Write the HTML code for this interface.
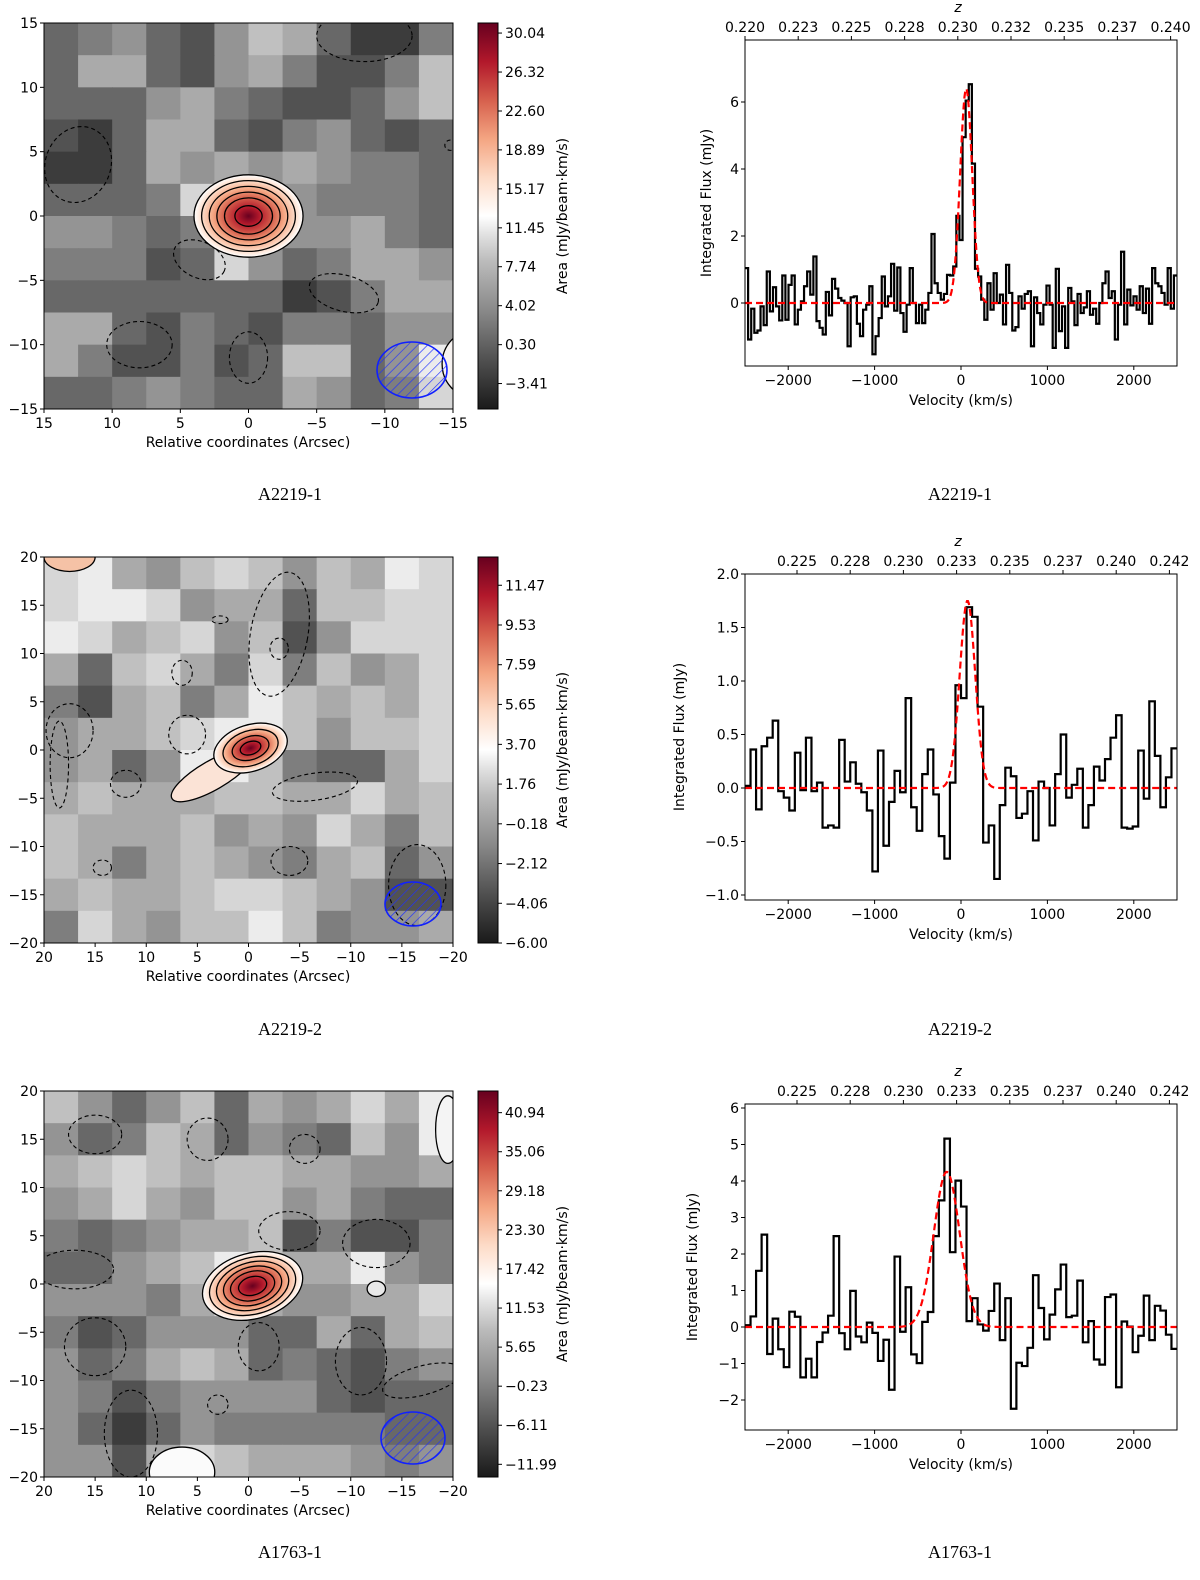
<!DOCTYPE html>
<html><head><meta charset="utf-8"><style>
html,body{margin:0;padding:0;background:#fff;}
svg{display:block;font-family:"DejaVu Sans","Liberation Sans",sans-serif;}
.cap{font-family:"Liberation Serif",serif;font-size:18px;}
</style></head><body>
<svg id="fig" width="1200" height="1580" viewBox="0 0 1200 1580" xmlns="http://www.w3.org/2000/svg">
<defs>
<linearGradient id="cmap" x1="0" y1="1" x2="0" y2="0">
<stop offset="0" stop-color="#1a1a1a"/><stop offset="0.12" stop-color="#4d4d4d"/><stop offset="0.25" stop-color="#878787"/><stop offset="0.38" stop-color="#bababa"/><stop offset="0.45" stop-color="#e0e0e0"/><stop offset="0.5" stop-color="#ffffff"/><stop offset="0.6" stop-color="#fddbc7"/><stop offset="0.7" stop-color="#f4a582"/><stop offset="0.8" stop-color="#d6604d"/><stop offset="0.9" stop-color="#b2182b"/><stop offset="1" stop-color="#67001f"/>
</linearGradient>
<radialGradient id="src">
<stop offset="0" stop-color="#67001f"/><stop offset="0.2" stop-color="#b2182b"/><stop offset="0.45" stop-color="#d6604d"/><stop offset="0.65" stop-color="#f4a582"/><stop offset="0.85" stop-color="#fddbc7"/><stop offset="1" stop-color="#ffffff"/>
</radialGradient>
<pattern id="hatch" width="7" height="7" patternUnits="userSpaceOnUse" patternTransform="rotate(45)"><line x1="0" y1="0" x2="0" y2="7" stroke="#2030ff" stroke-width="1.3"/></pattern>
</defs>
</svg>
<script>
// ---------- DATA ----------
const map1Grid = [
[3,4,5,3,2,5,7,6,3,1,1,4],[3,6,6,3,2,5,6,4,2,2,4,7],[3,3,3,5,6,4,3,2,2,3,5,7],[2,1,3,6,6,3,2,4,5,3,2,3],
[1,1,3,6,5,6,5,6,5,4,4,3],[3,3,3,4,8,9,9,5,4,4,4,3],[5,5,4,3,4,9,9,5,5,6,4,3],[4,4,4,2,3,8,5,3,4,6,6,5],
[3,3,3,3,3,3,3,1,2,4,6,6],[6,6,3,2,4,3,2,4,4,3,5,5],[6,4,2,2,4,2,3,7,7,3,5,9],[3,3,4,5,4,3,3,6,5,3,4,8]];
const map2Grid = [
[8,9,6,5,7,8,7,5,7,6,9,8],[8,9,9,8,5,6,6,3,7,7,8,8],[9,8,6,7,8,5,7,2,5,8,8,8],[6,3,7,8,6,4,8,4,7,5,6,8],
[4,2,6,7,4,6,9,7,6,7,6,8],[5,6,6,7,8,9,9,7,5,7,7,8],[5,6,3,5,9,9,7,4,3,3,6,8],[6,7,6,6,6,7,7,6,6,8,6,7],
[7,6,6,6,7,5,6,5,8,6,4,7],[7,6,4,6,7,6,5,4,6,7,3,5],[6,7,6,6,7,8,8,7,6,5,2,2],[4,8,6,5,7,7,9,7,4,5,5,6]];
const map3Grid = [
[7,5,3,5,7,3,6,5,6,8,6,9],[5,3,4,7,6,3,5,4,3,7,5,9],[6,7,8,7,6,7,7,6,6,5,5,6],[5,6,8,6,5,7,7,5,6,4,3,3],
[4,3,4,5,6,6,7,2,4,2,2,4],[3,3,5,6,7,9,7,6,6,9,5,4],[5,5,5,4,6,8,6,5,5,6,6,8],[4,2,3,5,5,5,3,3,6,3,6,7],
[5,3,4,6,7,6,3,4,3,2,4,5],[5,4,2,4,5,5,5,5,3,2,3,3],[5,3,1,3,5,4,4,4,4,4,3,3],[5,5,2,6,8,7,6,6,6,5,4,5]];
const cbar1Ticks = ["30.04","26.32","22.60","18.89","15.17","11.45","7.74","4.02","0.30","\u22123.41"];
const cbar1Vals = [30.04,26.32,22.60,18.89,15.17,11.45,7.74,4.02,0.30,-3.41];
const cbar2Ticks = ["11.47","9.53","7.59","5.65","3.70","1.76","\u22120.18","\u22122.12","\u22124.06","\u22126.00"];
const cbar2Vals = [11.47,9.53,7.59,5.65,3.70,1.76,-0.18,-2.12,-4.06,-6.00];
const cbar3Ticks = ["40.94","35.06","29.18","23.30","17.42","11.53","5.65","\u22120.23","\u22126.11","\u221211.99"];
const cbar3Vals = [40.94,35.06,29.18,23.30,17.42,11.53,5.65,-0.23,-6.11,-11.99];
const spec1 = [1.04,-1.09,-0.17,-0.89,-0.82,-0.1,-0.66,0.94,-0.25,0.47,-0.1,-0.52,0.82,-0.5,0.54,0.82,-0.64,-0.2,0.05,0.5,0.94,0.25,1.39,-0.54,-0.74,-0.94,0.33,-0.37,0.72,0.43,0.15,0.07,0,-1.29,0.17,0.2,-0.62,-0.99,-0.2,-0.05,0.5,-1.53,-0.99,-0.45,0.79,-0.1,0.2,1.17,-0.23,1.06,-0.3,-0.86,-0.05,1.04,0,-0.6,-0.05,-0.6,-0.2,0.3,2.06,0.59,0.3,0.1,0.27,0.84,0.82,1.09,2.6,1.88,4.95,6.04,6.53,4.16,1.02,0.79,0.1,-0.5,0.59,-0.2,0.89,0,0.25,-0.64,1.14,0.3,-0.82,-0.72,0.2,-0.17,0.27,0.35,-1.29,0.17,-0.3,-0.64,-0.05,0.52,-0.05,-1.34,1.02,-0.84,-0.1,-1.34,0.45,0.05,-0.66,0.27,-0.3,-0.13,0.35,-0.35,-0.17,-0.62,0,0.59,0.94,0.15,0.35,-1.09,-0.05,1.53,-0.64,0.4,-0.07,0.2,-0.2,0.5,-0.3,0.43,-0.62,1.04,0.59,0.5,0.3,-0.05,1.04,-0.17,0.82];
const spec2 = [0.02,0.36,-0.2,0.39,0.47,0.63,-0.03,-0.09,-0.21,0.33,-0.02,0.47,-0.03,0.05,-0.37,-0.35,-0.37,0.45,0.06,0.24,0.04,-0.04,-0.21,-0.78,0.35,-0.54,-0.13,0.16,-0.04,0.84,-0.18,-0.4,0.13,0.36,-0.06,-0.45,-0.66,0.05,0.96,0.84,1.69,1.6,0.76,-0.51,-0.35,-0.85,-0.16,0.19,0.11,-0.28,-0.24,-0.03,-0.49,0.06,0,-0.35,0.13,0.5,-0.09,0.03,0.18,-0.37,-0.16,0.2,0.07,0.27,0.47,0.68,-0.37,-0.38,-0.36,0.35,-0.1,0.81,0.3,-0.18,0.1,0.37];
const spec3 = [0.05,0.29,1.54,2.53,-0.74,0.23,-0.61,-1.1,0.42,0.28,-1.38,-0.87,-1.38,-0.41,-0.15,0.31,2.49,-0.17,-0.61,0.99,-0.26,-0.42,0.12,-0.16,-0.93,-0.35,-1.72,1.93,-0.13,1.09,-0.75,-0.99,0.14,0.41,2.49,3.47,5.16,2.05,4.01,3.3,0.16,0.79,0.07,-0.1,0.44,1.19,-0.36,0.79,-2.24,-0.98,-1.07,-0.57,1.42,0.52,-0.34,0.34,1.03,1.71,0.27,0.31,1.27,-0.42,0.16,-0.89,-1.03,0.82,0.89,-1.65,0.15,0.01,-0.69,-0.24,0.86,-0.36,0.58,0.45,-0.21,-0.6];
const fit1 = [6.4, 60, 70];    // amp, center km/s, sigma
const fit2 = [1.75, 75, 90];
const fit3 = [4.25, -165, 150];
const velTicks = [-2000,-1000,0,1000,2000];
const spec1YTicks = [0,2,4,6];
const spec2YTicks = [-1.0,-0.5,0.0,0.5,1.0,1.5,2.0];
const spec3YTicks = [-2,-1,0,1,2,3,4,5,6];
const z1Ticks = ["0.220","0.223","0.225","0.228","0.230","0.232","0.235","0.237","0.240"];
const z2Ticks = ["0.225","0.228","0.230","0.233","0.235","0.237","0.240","0.242"];

// ---------- helpers ----------
const svg = document.getElementById('fig');
const NS = 'http://www.w3.org/2000/svg';
function mk(tag, attrs, parent){ const e=document.createElementNS(NS,tag); for(const k in attrs) e.setAttribute(k,attrs[k]); (parent||svg).appendChild(e); return e; }
function txt(x,y,s,anchor,size,parent){ const t=mk('text',{x:x,y:y,'text-anchor':anchor||'middle','font-size':size||14,fill:'#000'},parent); t.textContent=s; return t; }
const defs = svg.querySelector('defs');

// ---------- map panels ----------
function mapPanel(cfg){
  const g = mk('g',{});
  
  
  const L=44,R=453,T=cfg.top,B=cfg.top+386, W=R-L, H=B-T, ext=cfg.ext;
  const cp = mk('clipPath',{id:'clip-'+cfg.name},defs);
  mk('rect',{x:L,y:T,width:W,height:H},cp);
  const inner = mk('g',{'clip-path':`url(#clip-${cfg.name})`},g);
  
  
  const sx = a => L + (ext - a)/(2*ext)*W;
  const sy = a => T + (ext - a)/(2*ext)*H;
  const grid = cfg.grid, n=grid.length;
  for(let r=0;r<n;r++) for(let c=0;c<grid[r].length;c++){
    const v=38+grid[r][c]*22;
    const cell = mk('rect',{x:L+c*W/n, y:T+r*H/n, width:W/n+0.6, height:H/n+0.6, fill:`rgb(${v},${v},${v})`},inner);
    
    
  }
  (cfg.extra||[]).forEach(b=>{ const e=mk('ellipse',{cx:sx(b[0]),cy:sy(b[1]),rx:b[2]*W/(2*ext),ry:b[3]*H/(2*ext),fill:b[4],stroke:'#000','stroke-width':1.3},inner);
      });
  cfg.neg.forEach(d=>{ const e=mk('ellipse',{cx:sx(d[0]),cy:sy(d[1]),rx:d[2]*W/(2*ext),ry:d[3]*H/(2*ext),fill:'none',stroke:'#000','stroke-width':1.1,'stroke-dasharray':'4,3',transform:`rotate(${d[4]||0} ${sx(d[0])} ${sy(d[1])})`},inner);
      });
  const s=cfg.src, cx=sx(s[0]), cy=sy(s[1]), rx=s[2]*W/(2*ext), ry=s[3]*H/(2*ext);
  if(cfg.tail){ const t=cfg.tail; const te=mk('ellipse',{cx:sx(t[0]),cy:sy(t[1]),rx:t[2]*W/(2*ext),ry:t[3]*H/(2*ext),fill:'#fbe3d6',stroke:'#000','stroke-width':1.3,transform:`rotate(${t[4]} ${sx(t[0])} ${sy(t[1])})`},inner);
      }
  const sg = mk('g',{transform:`rotate(${s[4]} ${cx} ${cy})`},inner);
   
  mk('ellipse',{cx:cx,cy:cy,rx:rx,ry:ry,fill:'url(#src)'},sg);
  cfg.levels.forEach(f=>{ mk('ellipse',{cx:cx,cy:cy,rx:rx*f,ry:ry*f,fill:'none',stroke:'#000','stroke-width':1.3},sg); });
  const bm=cfg.beam;
  const beam=mk('ellipse',{cx:bm[0],cy:bm[1],rx:bm[2],ry:bm[3],fill:'url(#hatch)',stroke:'#1020ff','stroke-width':1.6},inner);
   
  mk('rect',{x:L,y:T,width:W,height:H,fill:'none',stroke:'#000','stroke-width':1},g);
  for(let a=-ext;a<=ext;a+=5){
    mk('line',{x1:sx(a),y1:B,x2:sx(a),y2:B+4,stroke:'#000'},g);
    mk('line',{x1:L-4,y1:sy(a),x2:L,y2:sy(a),stroke:'#000'},g);
    const lab=a<0?'\u2212'+(-a):''+a;
    const xl=txt(sx(a),B+19,lab,'middle',14,g);  
    const yl=txt(L-6,sy(a)+5,lab,'end',14,g);  
  }
  const xt=txt(248,B+38,'Relative coordinates (Arcsec)','middle',14,g);
   
  const cb=mk('rect',{x:478,y:T,width:20,height:H,fill:'url(#cmap)',stroke:'#000','stroke-width':1},g);
   
  const cy0 = v => B - (v - cfg.cmin)/(cfg.cmax-cfg.cmin)*H;
  cfg.cvals.forEach((v,i)=>{ mk('line',{x1:498,y1:cy0(v),x2:502,y2:cy0(v),stroke:'#000'},g);
    const tl=txt(505,cy0(v)+5,cfg.clabels[i],'start',14,g);   });
  const cl=txt(0,0,'Area (mJy/beam\u00b7km/s)','middle',14,g);
  cl.setAttribute('transform',`translate(567 ${(T+B)/2}) rotate(-90)`);
   
  const cap=txt(290,cfg.cap,cfg.title,'middle',18,g); cap.setAttribute('class','cap');
   
}

mapPanel({name:'map-a2219-1',top:23,ext:15,grid:map1Grid,src:[0,0,4,3.2,0],levels:[1,0.86,0.72,0.58,0.44,0.25],
  neg:[[12.5,4,2.4,3,20],[3.6,-3.4,2,1.4,25],[-7,-6,2.6,1.4,15],[8,-10,2.4,1.8,0],[0,-11,1.4,2,0],[-8.5,14,3.5,2,0],[-14.8,5.5,0.4,0.4,0]],
  extra:[[-16.5,-11.5,2.3,2.6,'#f6f2f0']],
  beam:[412,370,35,28],cmin:-5.84,cmax:31.0,cvals:cbar1Vals,clabels:cbar1Ticks,cap:500,title:'A2219-1'});
mapPanel({name:'map-a2219-2',top:557,ext:20,grid:map2Grid,src:[-0.2,0.2,3.7,2.4,-18],levels:[1,0.75,0.5,0.28],
  tail:[3.5,-2.6,4.6,1.5,-30],
  neg:[[-3,12,2.8,6.5,10],[-3,10.5,0.9,1.1,0],[6.5,8,1,1.3,0],[6,1.6,1.8,2,0],[17.5,2,2.3,2.8,0],[12,-3.5,1.5,1.4,0],[-6.5,-3.8,4.2,1.4,-8],[-4,-11.5,1.8,1.5,0],[14.3,-12.2,0.9,0.8,0],[-16.5,-14,2.8,4.2,0],[2.8,13.5,0.8,0.4,0],[18.5,-1.5,0.9,4.5,0]],
  extra:[[17.5,20,2.5,1.5,'#f5c2a6']],
  beam:[413,904,28,22],cmin:-6.0,cmax:12.85,cvals:cbar2Vals,clabels:cbar2Ticks,cap:1035,title:'A2219-2'});
mapPanel({name:'map-a1763-1',top:1091,ext:20,grid:map3Grid,src:[-0.4,-0.2,5,3.4,-15],levels:[1,0.86,0.72,0.58,0.44,0.28],
  neg:[[15,15.5,2.6,2,0],[4,15,2,2.2,0],[-5.5,14,1.5,1.5,0],[-4,5.5,3,2,0],[-12.5,4.2,3.3,2.5,0],[17,1.5,3.8,2,0],[15,-6.5,3,3,0],[-1,-6.5,2,2.5,0],[11.5,-15.5,2.6,4.5,0],[3,-12.5,1,1,0],[-11,-8,2.5,3.5,0],[-17,-10,4,1.5,-15]],
  extra:[[6.5,-19.5,3.2,2.6,'#fbfbfb'],[-12.5,-0.5,0.9,0.8,'#e8e8e8'],[-19.5,16,1.2,3.5,'#f4f4f4']],
  beam:[413,1438,32,26],cmin:-13.9,cmax:44.2,cvals:cbar3Vals,clabels:cbar3Ticks,cap:1558,title:'A1763-1'});

// ---------- spectra ----------
function specPanel(cfg){
  const g=mk('g',{});
  
  
  const L=745,R=1177,T=cfg.top,B=cfg.top+326;
  const xv = v => L + (v+2500)/5000*(R-L);
  const yv = f => cfg.y0 - f*cfg.ppu;
  const N=cfg.data.length, w=5000/N;
  let d='';
  cfg.data.forEach((f,i)=>{ const x0=xv(-2500+i*w), x1=xv(-2500+(i+1)*w), y=yv(f);
    d += (i===0?`M${x0},${y}`:`L${x0},${y}`) + `L${x1},${y}`; });
  const p=mk('path',{d:d,fill:'none',stroke:'#000','stroke-width':2.2,'stroke-linejoin':'miter'},g);
   
  let gd='';
  for(let v=-2500; v<=2500; v+=10){ const f=cfg.fit[0]*Math.exp(-0.5*Math.pow((v-cfg.fit[1])/cfg.fit[2],2)); gd+=(v===-2500?'M':'L')+xv(v)+','+yv(f); }
  const gp=mk('path',{d:gd,fill:'none',stroke:'#ff0000','stroke-width':2.2,'stroke-dasharray':'7,4'},g);
   
  mk('rect',{x:L,y:T,width:R-L,height:B-T,fill:'none',stroke:'#000','stroke-width':1},g);
  velTicks.forEach(v=>{ mk('line',{x1:xv(v),y1:B,x2:xv(v),y2:B+4,stroke:'#000'},g);
    const t=txt(xv(v),B+19,v<0?'\u2212'+(-v):''+v,'middle',14,g);   });
  cfg.yt.forEach(f=>{ mk('line',{x1:L-4,y1:yv(f),x2:L,y2:yv(f),stroke:'#000'},g);
    const s=cfg.dec?Math.abs(f).toFixed(1):''+Math.abs(f);
    const t=txt(L-6,yv(f)+5,(f<0?'\u2212':'')+s,'end',14,g);   });
  cfg.zt.forEach((s,i)=>{ const x=cfg.z0x+i*53.2; mk('line',{x1:x,y1:T-4,x2:x,y2:T,stroke:'#000'},g);
    const t=txt(x,T-8,s,'middle',14,g);   });
  const zl=txt(958,T-28,'z','middle',14,g); zl.setAttribute('font-style','italic');  
  const xt=txt(961,B+39,'Velocity (km/s)','middle',14,g);  
  const yt=txt(0,0,'Integrated Flux (mJy)','middle',14,g);
  yt.setAttribute('transform',`translate(${cfg.ylx} ${(T+B)/2}) rotate(-90)`);
   
  const cap=txt(960,cfg.cap,cfg.title,'middle',18,g); cap.setAttribute('class','cap');
   
}
specPanel({name:'spectrum-a2219-1',top:40,y0:303,ppu:33.5,data:spec1,fit:fit1,yt:spec1YTicks,dec:false,zt:z1Ticks,z0x:745,ylx:711,cap:500,title:'A2219-1'});
specPanel({name:'spectrum-a2219-2',top:574,y0:788,ppu:107,data:spec2,fit:fit2,yt:spec2YTicks,dec:true,zt:z2Ticks,z0x:797,ylx:684,cap:1035,title:'A2219-2'});
specPanel({name:'spectrum-a1763-1',top:1104,y0:1327,ppu:36.5,data:spec3,fit:fit3,yt:spec3YTicks,dec:false,zt:z2Ticks,z0x:797,ylx:697,cap:1558,title:'A1763-1'});
</script>
</body></html>
